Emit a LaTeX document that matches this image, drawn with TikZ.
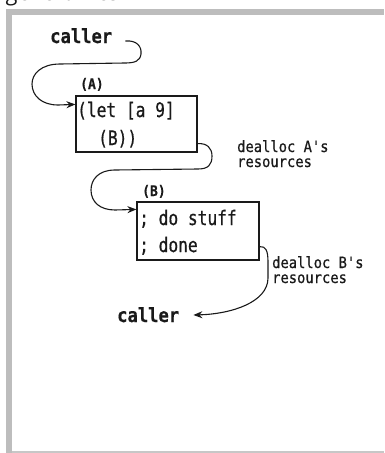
\documentclass[tikz,border=0pt]{standalone}
\usepackage{fontspec}
\usetikzlibrary{calc,arrows.meta}
\newfontfamily\codefont[FakeStretch=0.81,FakeBold=0.6]{DejaVu Sans Mono}
\newfontfamily\callfont[FakeStretch=0.88,FakeBold=0.4]{DejaVu Sans Mono}
\newfontfamily\notefont[FakeStretch=0.89,FakeBold=0.6]{DejaVu Sans Mono}
\newfontfamily\capfont{Open Sans}
\definecolor{framegray}{HTML}{BDBDBD}
\definecolor{ink}{HTML}{1A1A1A}
\begin{document}
\begin{tikzpicture}[x=1pt,y=-1pt,
  txt/.style={anchor=base west, inner sep=0pt, text=ink},
  code/.style={txt, font=\codefont\fontsize{20}{24}\selectfont},
  callertxt/.style={txt, font=\callfont\bfseries\fontsize{19.5}{23}\selectfont},
  tag/.style={txt, font=\notefont\bfseries\fontsize{14.6}{17}\selectfont},
  note/.style={txt, font=\notefont\fontsize{15.5}{18}\selectfont},
  codebox/.style={draw=ink, line width=1.2pt, inner sep=0pt, minimum width=121pt},
  flow/.style={draw=ink, line width=1.1pt, -{Stealth[length=9pt,width=7pt]}}]
\useasboundingbox (0,0) rectangle (384,453);
% frame
\fill[white] (0,0) rectangle (384,453);
\fill[framegray] (6,9) rectangle (384,15);
\fill[framegray] (6,9) rectangle (12,453);
\fill[black!22] (12,451) rectangle (384,453);
% cropped caption
\node[txt, font=\capfont\itshape\fontsize{23}{27}\selectfont, text=ink] (cap) at (7,0.5) {general res};
% boxes
\node[codebox, minimum height=56pt] (A) at (136.5,124) {};
\node[codebox, minimum width=122pt, minimum height=58pt] (B) at (198,231) {};
% texts
\node[callertxt] (callerTop) at (50,43) {caller};
\node[callertxt] (callerBot) at (117,322) {caller};
\node[tag] (tagA) at (80,89) {(A)};
\node[code] (a1) at (77,117) {(let [a 9]};
\node[code] (a2) at (98,145) {(B))};
\node[tag] (tagB) at (142,196) {(B)};
\node[code] (b1) at (139,225) {; do stuff};
\node[code] (b2) at (139,252) {; done};
\node[note] (na1) at (237,152) {dealloc A's};
\node[note] (na2) at (237,167) {resources};
\node[note] (nb1) at (272,268) {dealloc B's};
\node[note] (nb2) at (272,283) {resources};
% connectors
\draw[flow] ($(callerTop.base east)+(13,-2)$)
  .. controls (136,40) and (142,46) .. (141,54)
  .. controls (140,61) and (135,63) .. (125,63)
  -- (60,64)
  .. controls (41,64) and (32,74) .. (32,84)
  .. controls (32,96) and (42,105) .. (58,105)
  -- ($(A.north west)+(0,9)$);
\draw[flow] ($(A.south east)+(0,-9)$)
  .. controls (207,143) and (212,148) .. (212,156)
  .. controls (212,165) and (208,169) .. (198,169)
  -- (115,170)
  .. controls (98,170) and (91,180) .. (91,190)
  .. controls (91,202) and (100,210) .. (115,210)
  -- ($(B.north west)+(0,8)$);
\draw[flow] ($(B.south east)+(0,-14)$)
  .. controls (266,246) and (268,251) .. (268,262)
  -- (268,278)
  .. controls (268,302) and (232,314) .. ($(callerBot.base east)+(14,-7)$);
\end{tikzpicture}
\end{document}
